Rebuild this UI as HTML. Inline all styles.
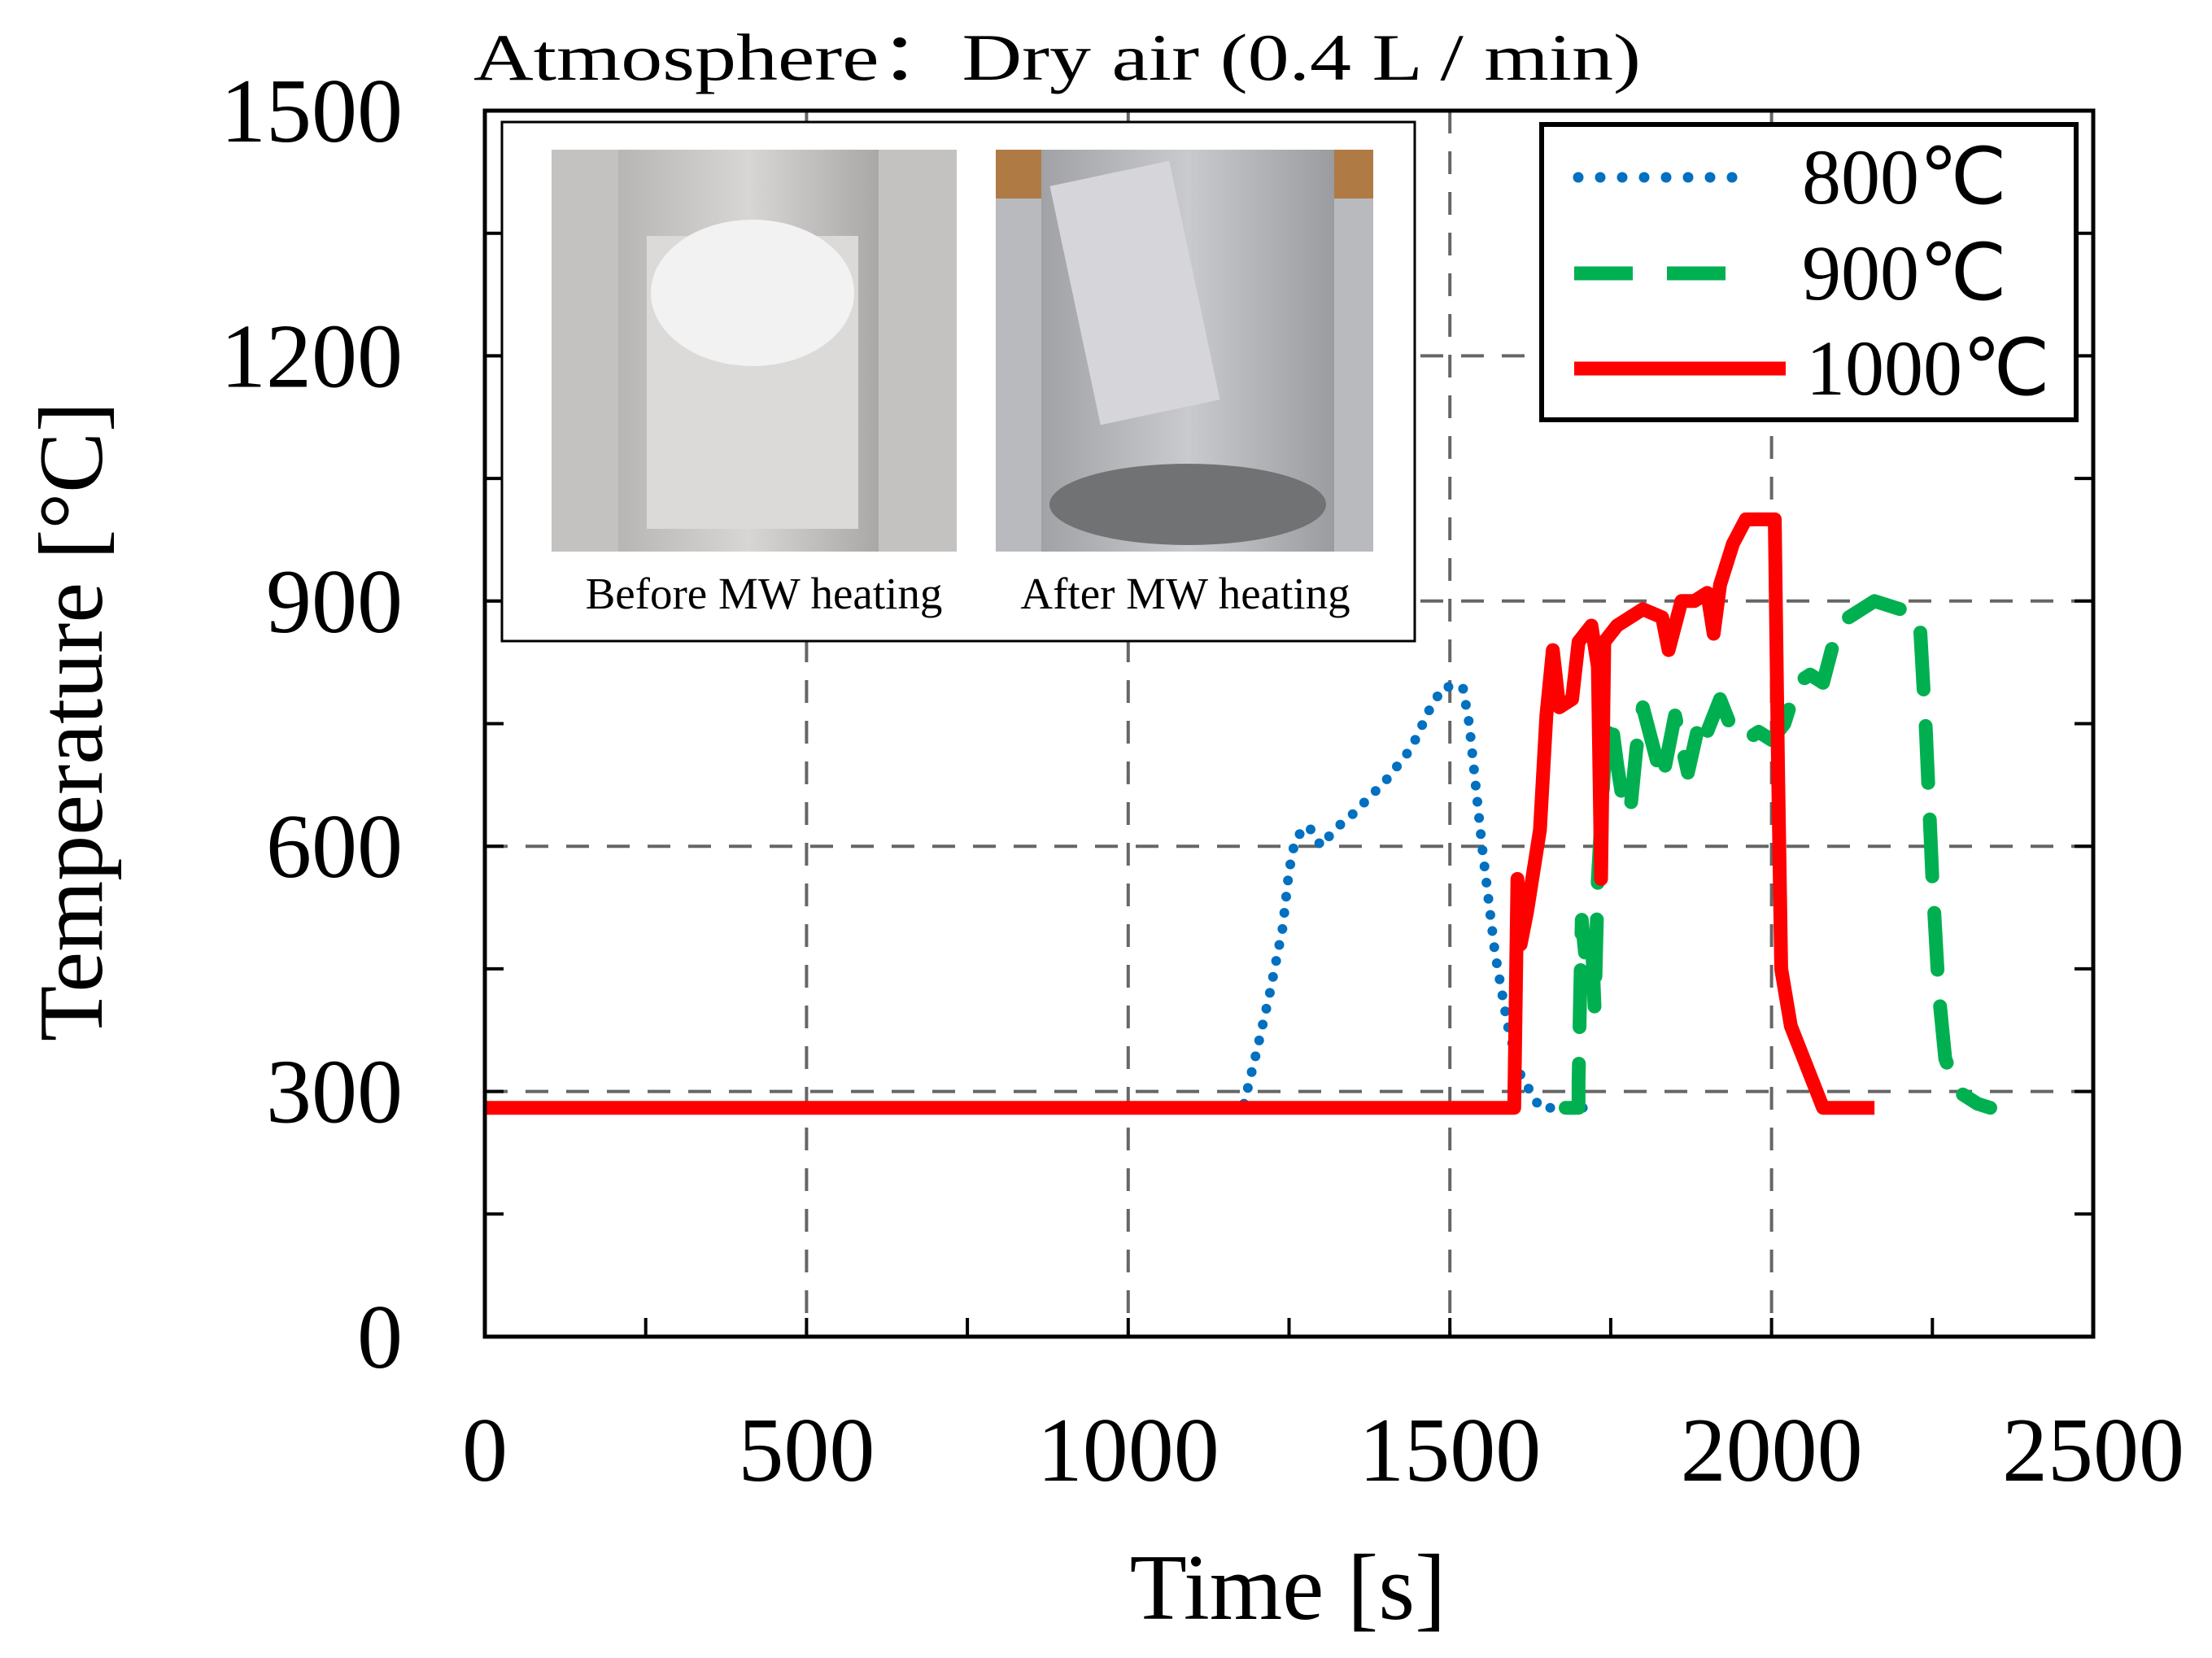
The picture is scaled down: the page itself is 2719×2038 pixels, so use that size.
<!DOCTYPE html>
<html><head><meta charset="utf-8"><style>
body{margin:0;background:#fff}
svg{display:block}
text{font-family:"Liberation Serif",serif;fill:#000}
</style></head><body>
<svg width="2719" height="2038" viewBox="0 0 2719 2038">
<g id="grid"></g>
<g id="ticks"></g>
<g id="series"></g>
<rect x="596" y="136" width="1977" height="1507" fill="none" stroke="#000" stroke-width="5"/>
<g>
<rect x="617" y="150" width="1122" height="638" fill="#fff" stroke="#000" stroke-width="3"/>
<defs>
<linearGradient id="g1" x1="0" x2="1"><stop offset="0" stop-color="#b8b6b4"/><stop offset="0.5" stop-color="#d8d6d4"/><stop offset="1" stop-color="#aaa8a6"/></linearGradient>
<linearGradient id="g2" x1="0" x2="1"><stop offset="0" stop-color="#a0a2a6"/><stop offset="0.5" stop-color="#c8cace"/><stop offset="1" stop-color="#9a9ca0"/></linearGradient>
</defs>
<rect x="678" y="184" width="498" height="494" fill="#c4c2c0"/>
<rect x="760" y="184" width="320" height="494" fill="url(#g1)"/>
<rect x="795" y="290" width="260" height="360" fill="#dcdad8"/>
<ellipse cx="925" cy="360" rx="125" ry="90" fill="#f2f2f2"/>
<rect x="1224" y="184" width="464" height="494" fill="#b8babe"/>
<rect x="1224" y="184" width="464" height="60" fill="#b07a45"/>
<rect x="1280" y="184" width="360" height="494" fill="url(#g2)"/>
<ellipse cx="1460" cy="620" rx="170" ry="50" fill="#707274"/>
<rect x="1320" y="210" width="150" height="300" fill="#d6d6da" transform="rotate(-12 1395 360)"/>
<text x="939" y="748" font-size="55" text-anchor="middle">Before MW heating</text>
<text x="1457" y="748" font-size="55" text-anchor="middle">After MW heating</text>
</g>
<g>
<rect x="1895" y="153" width="657" height="363" fill="#fff" stroke="#000" stroke-width="6"/>
<line x1="1940" y1="218" x2="2130" y2="218" stroke="#0070c0" stroke-width="13" stroke-linecap="round" stroke-dasharray="0 27"/>
<text x="2215" y="250" font-size="96">800℃</text>
<line x1="1935" y1="336" x2="2140" y2="336" stroke="#00b050" stroke-width="17" stroke-dasharray="72 42"/>
<text x="2215" y="368" font-size="96">900℃</text>
<line x1="1935" y1="453" x2="2195" y2="453" stroke="#ff0000" stroke-width="17"/>
<text x="2220" y="485" font-size="96">1000℃</text>
</g>
<text x="582" y="98" font-size="82" textLength="1435" lengthAdjust="spacingAndGlyphs" font-family="Liberation Serif, Noto Serif CJK SC, serif">Atmosphere：Dry air (0.4 L / min)</text>
<text x="1583" y="1990" font-size="115" text-anchor="middle">Time [s]</text>
<text transform="translate(125 887) rotate(-90)" font-size="112" text-anchor="middle">Temperature [°C]</text>
<g id="labels"></g>
</svg>
<script>
const xTicks=[0,500,1000,1500,2000,2500];
const yTicks=[0,300,600,900,1200,1500];
const t800=[1180,1200,1220,1240,1250,1260,1280,1300,1320,1350,1400,1440,1470,1490,1520,1530,1550,1570,1590,1610,1640,1720];
const v800=[285,350,420,500,570,610,625,600,620,640,680,720,770,795,795,750,600,470,380,320,280,280];
const t900=[1680,1700,1700,1702,1705,1710,1720,1725,1730,1740,1750,1760,1770,1780,1790,1800,1810,1830,1850,1870,1890,1900,1920,1940,1960,1980,2000,2020,2040,2060,2080,2100,2120,2160,2200,2230,2240,2250,2260,2270,2290,2320,2340];
const v900=[280,280,310,400,510,470,500,400,560,700,760,700,650,640,720,770,740,680,760,690,760,740,780,740,730,740,730,750,800,810,800,860,880,900,890,880,740,560,420,340,300,285,280];
const t1000=[0,1600,1605,1610,1620,1640,1650,1660,1670,1690,1700,1720,1730,1735,1740,1760,1800,1830,1840,1860,1880,1900,1910,1920,1940,1960,1990,2005,2010,2015,2030,2060,2080,2160];
const v1000=[280,280,560,480,520,620,760,840,770,780,850,870,820,560,850,870,890,880,840,900,900,910,860,920,970,1000,1000,1000,700,450,380,320,280,280];
const X=t=>596+t*1977/2500, Y=v=>1643-v*1507/1500;
const NS='http://www.w3.org/2000/svg';
function mk(tag,attrs,parent){const e=document.createElementNS(NS,tag);for(const k in attrs)e.setAttribute(k,attrs[k]);parent.appendChild(e);return e;}
const grid=document.getElementById('grid'),ticks=document.getElementById('ticks'),labels=document.getElementById('labels'),series=document.getElementById('series');
xTicks.slice(1,-1).forEach(t=>{const l=mk('line',{x1:X(t),x2:X(t),y1:136,y2:1643,stroke:'#666','stroke-width':4,'stroke-dasharray':'28 22'},grid);

});
yTicks.slice(1,-1).forEach(v=>{const l=mk('line',{x1:596,x2:2573,y1:Y(v),y2:Y(v),stroke:'#666','stroke-width':4,'stroke-dasharray':'28 22'},grid);

});
for(let t=250;t<2500;t+=250){mk('line',{x1:X(t),x2:X(t),y1:1643,y2:1620,stroke:'#000','stroke-width':4},ticks);}
for(let v=150;v<1500;v+=150){mk('line',{x1:596,x2:619,y1:Y(v),y2:Y(v),stroke:'#000','stroke-width':4},ticks);mk('line',{x1:2573,x2:2550,y1:Y(v),y2:Y(v),stroke:'#000','stroke-width':4},ticks);}
xTicks.forEach(t=>{const e=mk('text',{x:X(t),y:1820,'font-size':112,'text-anchor':'middle'},labels);e.textContent=t;

});
yTicks.forEach(v=>{const e=mk('text',{x:495,y:Y(v)+38,'font-size':112,'text-anchor':'end'},labels);e.textContent=v;

});
const pts=(t,v)=>t.map((a,i)=>X(a)+','+Y(v[i])).join(' ');
const s1=mk('polyline',{points:pts(t800,v800),fill:'none',stroke:'#0070c0','stroke-width':12,'stroke-linecap':'round','stroke-dasharray':'0 20'},series);


const s2=mk('polyline',{points:pts(t900,v900),fill:'none',stroke:'#00b050','stroke-width':17,'stroke-linecap':'round','stroke-linejoin':'round','stroke-dasharray':'70 45'},series);


const s3=mk('polyline',{points:pts(t1000,v1000),fill:'none',stroke:'#ff0000','stroke-width':17,'stroke-linejoin':'round'},series);


</script>
</body></html>
